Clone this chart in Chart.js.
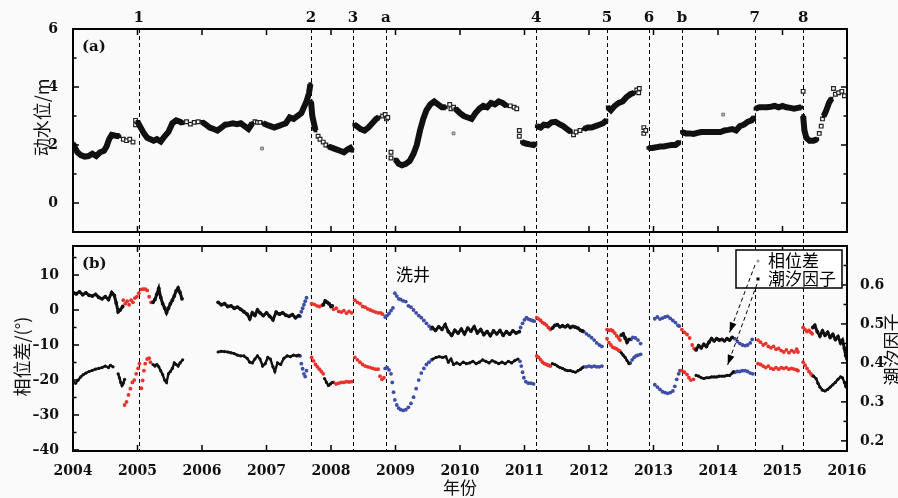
<!DOCTYPE html>
<html>
<head>
<meta charset="utf-8">
<script src="https://cdn.jsdelivr.net/npm/chart.js@4.4.0/dist/chart.umd.min.js"></script>
<style>
  html, body { margin: 0; padding: 0; background: #fafafa; }
  #wrap { position: relative; width: 898px; height: 498px; overflow: hidden; }
  #levelChart { position: absolute; left: 0; top: 0; }
  #tideChart { position: absolute; left: 0; top: 239px; }
</style>
</head>
<body>
<div id="wrap">
  <canvas id="levelChart" width="898" height="239"></canvas>
  <canvas id="tideChart" width="898" height="259"></canvas>
</div>
<script>
// --- Data (years as decimal) ---
const eventYears = [2005.02, 2007.69, 2008.34, 2008.85, 2011.18, 2012.28, 2012.93, 2013.44, 2014.57, 2015.32];
const eventLabels = ['1', '2', '3', 'a', '4', '5', '6', 'b', '7', '8'];

// (a) water level, continuous runs
const levelSegments = [
  [[2004.00,2.05],[2004.03,1.9],[2004.07,1.75],[2004.12,1.65],[2004.18,1.6],[2004.24,1.62],[2004.30,1.7],[2004.36,1.62],[2004.42,1.75],[2004.48,1.8],[2004.52,1.95],[2004.56,2.2],[2004.60,2.35],[2004.66,2.32],[2004.72,2.3]],
  [[2005.00,2.8],[2005.05,2.6],[2005.10,2.4],[2005.15,2.25],[2005.20,2.2],[2005.25,2.15],[2005.30,2.2],[2005.36,2.12],[2005.42,2.3],[2005.48,2.45],[2005.54,2.75],[2005.60,2.85],[2005.66,2.8],[2005.70,2.75]],
  [[2006.00,2.8],[2006.06,2.7],[2006.12,2.6],[2006.18,2.55],[2006.24,2.5],[2006.30,2.6],[2006.36,2.7],[2006.42,2.72],[2006.48,2.75],[2006.54,2.72],[2006.60,2.75],[2006.66,2.65],[2006.72,2.55],[2006.78,2.75]],
  [[2006.95,2.75],[2007.00,2.7],[2007.06,2.65],[2007.12,2.6],[2007.18,2.65],[2007.24,2.7],[2007.30,2.75],[2007.36,2.95],[2007.42,2.9],[2007.48,3.0],[2007.54,3.1],[2007.58,3.3],[2007.62,3.5],[2007.66,3.8],[2007.68,4.1]],
  [[2007.69,3.5],[2007.71,3.0],[2007.74,2.7],[2007.76,2.5]],
  [[2007.96,1.95],[2008.02,1.9],[2008.08,1.85],[2008.14,1.8],[2008.20,1.75],[2008.26,1.85],[2008.30,1.9],[2008.33,1.8]],
  [[2008.36,2.7],[2008.40,2.65],[2008.46,2.55],[2008.52,2.5],[2008.58,2.6],[2008.64,2.75],[2008.70,2.9],[2008.74,2.95]],
  [[2009.00,1.5],[2009.05,1.35],[2009.10,1.3],[2009.16,1.35],[2009.22,1.45],[2009.28,1.7],[2009.33,2.0],[2009.38,2.5],[2009.43,2.9],[2009.48,3.2],[2009.54,3.4],[2009.60,3.5],[2009.66,3.4],[2009.72,3.3],[2009.78,3.3]],
  [[2009.93,3.25],[2010.00,3.1],[2010.06,3.0],[2010.12,2.95],[2010.18,2.9],[2010.24,3.1],[2010.30,3.25],[2010.36,3.35],[2010.42,3.3],[2010.48,3.45],[2010.54,3.4],[2010.60,3.5],[2010.66,3.45],[2010.72,3.35]],
  [[2010.96,2.1],[2011.02,2.05],[2011.08,2.02],[2011.14,2.0],[2011.17,2.05]],
  [[2011.19,2.65],[2011.25,2.6],[2011.30,2.7],[2011.36,2.68],[2011.42,2.78],[2011.48,2.8],[2011.54,2.72],[2011.60,2.65],[2011.66,2.55],[2011.72,2.45]],
  [[2011.92,2.55],[2011.98,2.6],[2012.04,2.6],[2012.10,2.65],[2012.16,2.7],[2012.22,2.75],[2012.27,2.85]],
  [[2012.29,3.3],[2012.34,3.2],[2012.40,3.35],[2012.46,3.45],[2012.52,3.5],[2012.58,3.65],[2012.64,3.75],[2012.70,3.8]],
  [[2012.92,1.9],[2012.98,1.9],[2013.04,1.92],[2013.10,1.95],[2013.16,1.95],[2013.22,1.98],[2013.28,2.0],[2013.34,2.0],[2013.40,2.1]],
  [[2013.44,2.45],[2013.50,2.4],[2013.56,2.4],[2013.62,2.38],[2013.68,2.42],[2013.74,2.45],[2013.80,2.45],[2013.86,2.45],[2013.92,2.45],[2013.98,2.45],[2014.04,2.45],[2014.10,2.5],[2014.16,2.52],[2014.22,2.55],[2014.28,2.5],[2014.34,2.65],[2014.40,2.7],[2014.46,2.8],[2014.52,2.85],[2014.56,2.95]],
  [[2014.58,3.25],[2014.64,3.3],[2014.70,3.3],[2014.76,3.3],[2014.82,3.32],[2014.88,3.35],[2014.94,3.3],[2015.00,3.35],[2015.06,3.3],[2015.12,3.28],[2015.18,3.25],[2015.24,3.28],[2015.29,3.3]],
  [[2015.32,3.0],[2015.34,2.5],[2015.37,2.25],[2015.42,2.15],[2015.48,2.15],[2015.54,2.2]],
  [[2015.64,3.0],[2015.68,3.2],[2015.72,3.45],[2015.76,3.6]]
];
// (a) loose open squares
const levelSquares = [
  [2004.78,2.2],[2004.83,2.15],[2004.88,2.2],[2004.93,2.1],[2004.97,2.7],[2004.97,2.85],
  [2005.76,2.8],[2005.82,2.72],[2005.88,2.78],[2005.94,2.8],
  [2006.82,2.8],[2006.86,2.78],[2006.90,2.78],
  [2007.80,2.3],[2007.83,2.2],[2007.88,2.1],[2007.92,2.0],
  [2008.80,3.0],[2008.84,3.05],[2008.86,2.9],[2008.88,2.95],[2008.93,1.75],[2008.93,1.55],
  [2009.84,3.4],[2009.86,3.25],[2009.90,3.3],
  [2010.78,3.35],[2010.84,3.3],[2010.88,3.25],[2010.92,2.5],[2010.92,2.3],
  [2011.76,2.35],[2011.80,2.45],[2011.86,2.5],
  [2012.74,3.9],[2012.77,3.8],[2012.78,3.95],[2012.85,2.6],[2012.85,2.4],[2012.88,2.5],
  [2015.32,3.85],[2015.57,2.4],[2015.60,2.65],[2015.62,2.9],
  [2015.79,3.95],[2015.82,3.75],[2015.87,3.8],[2015.92,3.85],[2015.96,3.7]
];
const levelOutliers = [[2006.93,1.88],[2009.90,2.4],[2014.08,3.05]];

// (b) phase difference (deg, left axis)
const phaseBlack = [
  [[2004.00,5.0],[2004.05,4.6],[2004.10,5.2],[2004.15,4.4],[2004.20,4.9],[2004.25,4.2],[2004.30,4.0],[2004.35,4.5],[2004.40,3.6],[2004.45,3.2],[2004.50,3.8],[2004.55,3.0],[2004.60,5.0],[2004.64,4.2],[2004.67,2.0],[2004.70,-0.5],[2004.73,0.0],[2004.77,1.0]],
  [[2005.24,2.2],[2005.27,3.0],[2005.30,4.5],[2005.33,6.2],[2005.36,3.6],[2005.39,1.8],[2005.42,0.6],[2005.45,-0.8],[2005.48,0.5],[2005.51,1.8],[2005.54,2.8],[2005.57,4.0],[2005.60,5.5],[2005.63,6.3],[2005.66,5.0],[2005.69,3.2]],
  [[2006.25,2.2],[2006.30,1.5],[2006.35,1.8],[2006.40,1.0],[2006.45,1.2],[2006.50,0.5],[2006.55,0.8],[2006.60,0.2],[2006.65,-0.5],[2006.70,-1.2],[2006.74,-2.5],[2006.78,-0.8],[2006.82,-1.5],[2006.86,0.0],[2006.90,-0.8],[2006.95,-1.6],[2007.00,-0.8],[2007.05,-1.8],[2007.10,-2.8],[2007.15,-0.6],[2007.20,-1.2],[2007.25,-0.8],[2007.30,-1.5],[2007.35,-1.8],[2007.40,-1.3],[2007.45,-2.2],[2007.50,-1.6]],
  [[2007.88,1.5],[2007.91,2.6],[2007.94,2.2],[2007.97,1.8],[2008.00,1.0],[2008.02,1.2]],
  [[2009.57,-5.0],[2009.62,-5.8],[2009.67,-4.8],[2009.72,-5.5],[2009.77,-4.2],[2009.82,-6.2],[2009.87,-7.2],[2009.92,-5.8],[2009.97,-6.6],[2010.02,-5.5],[2010.07,-6.8],[2010.12,-5.2],[2010.17,-6.0],[2010.22,-4.8],[2010.27,-6.5],[2010.32,-5.6],[2010.37,-7.0],[2010.42,-6.2],[2010.47,-7.3],[2010.52,-6.0],[2010.57,-6.8],[2010.62,-5.9],[2010.67,-7.2],[2010.72,-6.2],[2010.77,-6.9],[2010.82,-6.0],[2010.87,-6.6],[2010.92,-6.2]],
  [[2011.43,-5.2],[2011.47,-4.4],[2011.51,-4.2],[2011.55,-4.8],[2011.59,-4.5],[2011.63,-4.8],[2011.67,-4.4],[2011.71,-5.0],[2011.75,-4.7],[2011.79,-4.9],[2011.83,-5.2],[2011.87,-5.8],[2011.90,-6.0]],
  [[2012.50,-7.2],[2012.53,-6.8],[2012.56,-8.0],[2012.59,-9.2],[2012.62,-8.4]],
  [[2013.66,-11.4],[2013.70,-10.2],[2013.74,-10.8],[2013.78,-9.8],[2013.82,-10.4],[2013.86,-9.2],[2013.90,-8.2],[2013.94,-8.8],[2013.98,-8.2],[2014.02,-8.6],[2014.06,-8.4],[2014.10,-8.8],[2014.14,-8.2],[2014.18,-8.6],[2014.22,-7.8]],
  [[2015.47,-5.0],[2015.50,-4.4],[2015.54,-6.2],[2015.58,-7.4],[2015.62,-6.0],[2015.66,-7.2],[2015.70,-6.4],[2015.74,-7.8],[2015.78,-7.0],[2015.82,-8.4],[2015.86,-7.6],[2015.90,-9.4],[2015.93,-8.6],[2015.96,-11.0],[2015.98,-13.0],[2016.00,-14.0]]
];
const phaseRed = [
  [2004.78,2.8],[2004.81,1.8],[2004.84,2.5],[2004.87,1.5],[2004.90,2.8],[2004.93,2.2],[2004.96,3.4],[2004.99,3.8],[2005.02,4.8],
  [2005.06,5.9],[2005.09,6.0],[2005.12,6.0],[2005.15,5.6],[2005.18,3.8],[2005.21,2.2],
  [2007.70,1.8],[2007.74,1.6],[2007.78,1.2],[2007.82,1.0],[2007.86,1.3],
  [2008.04,0.2],[2008.08,0.5],[2008.12,-0.4],[2008.16,-0.6],[2008.20,-0.2],[2008.24,-0.9],[2008.28,-0.4],[2008.32,-0.8],
  [2008.37,2.8],[2008.41,2.2],[2008.45,1.8],[2008.49,1.0],[2008.53,0.8],[2008.57,0.3],[2008.61,0.0],[2008.65,-0.3],[2008.69,-0.6],[2008.73,-0.8],[2008.77,-0.8],[2008.80,-1.2],
  [2011.19,-2.2],[2011.22,-2.6],[2011.25,-3.0],[2011.28,-3.6],[2011.31,-3.9],[2011.34,-4.3],[2011.37,-5.0],[2011.40,-5.6],
  [2012.28,-5.6],[2012.31,-5.8],[2012.34,-5.7],[2012.37,-6.0],[2012.40,-6.6],[2012.43,-7.4],[2012.46,-8.0],[2012.48,-8.6],
  [2013.44,-5.6],[2013.48,-6.4],[2013.52,-7.0],[2013.56,-8.0],[2013.60,-10.0],[2013.63,-11.0],
  [2014.62,-8.6],[2014.66,-9.2],[2014.70,-10.0],[2014.74,-9.6],[2014.78,-10.4],[2014.82,-10.8],[2014.86,-10.4],[2014.90,-11.2],[2014.94,-11.0],[2014.98,-11.6],[2015.02,-12.0],[2015.06,-11.4],[2015.10,-12.2],[2015.14,-11.6],[2015.18,-12.0],[2015.22,-11.2],[2015.24,-12.0],
  [2015.32,-5.0],[2015.35,-5.6],[2015.38,-6.2],[2015.41,-5.8],[2015.44,-6.4],[2015.46,-6.8]
];
const phaseBlue = [
  [2007.52,-1.8],[2007.54,-0.5],[2007.56,0.5],[2007.58,1.5],[2007.60,2.5],[2007.62,3.5],
  [2008.84,-2.0],[2008.87,-1.6],[2008.90,-1.0],[2008.93,-0.2],[2008.96,0.6],[2008.99,4.8],[2009.02,4.0],[2009.05,3.2],[2009.08,3.0],[2009.12,2.6],[2009.16,2.4],[2009.20,1.2],[2009.24,0.8],[2009.28,0.0],[2009.32,-0.8],[2009.36,-1.6],[2009.40,-2.2],[2009.44,-3.0],[2009.48,-3.8],[2009.52,-4.6],[2009.55,-5.4],
  [2010.94,-5.0],[2010.97,-3.8],[2011.00,-2.8],[2011.03,-2.2],[2011.06,-2.6],[2011.09,-2.8],[2011.12,-3.0],[2011.15,-3.2],
  [2011.92,-6.2],[2011.96,-6.8],[2012.00,-7.3],[2012.04,-7.9],[2012.08,-8.6],[2012.12,-9.4],[2012.16,-10.0],[2012.20,-10.4],
  [2012.65,-8.4],[2012.68,-7.8],[2012.72,-8.0],[2012.76,-8.6],[2012.80,-9.6],
  [2013.02,-2.5],[2013.06,-2.0],[2013.10,-2.6],[2013.14,-2.3],[2013.18,-2.0],[2013.22,-1.8],[2013.26,-2.4],[2013.30,-3.0],[2013.34,-3.6],[2013.38,-4.4],[2013.40,-4.6],
  [2014.26,-8.2],[2014.30,-9.0],[2014.34,-9.6],[2014.38,-10.0],[2014.42,-10.2],[2014.46,-10.0],[2014.50,-9.4],[2014.53,-8.4]
];

// (b) tidal factor (right axis)
const tideBlack = [
  [[2004.00,0.352],[2004.04,0.348],[2004.08,0.356],[2004.12,0.364],[2004.16,0.370],[2004.20,0.374],[2004.25,0.378],[2004.30,0.381],[2004.35,0.384],[2004.40,0.386],[2004.45,0.388],[2004.50,0.392],[2004.55,0.388],[2004.58,0.394],[2004.62,0.390]],
  [[2004.70,0.372],[2004.72,0.362],[2004.74,0.350],[2004.76,0.342],[2004.78,0.348],[2004.80,0.358]],
  [[2005.24,0.396],[2005.27,0.392],[2005.30,0.396],[2005.33,0.390],[2005.36,0.380],[2005.39,0.370],[2005.42,0.356],[2005.45,0.350],[2005.48,0.372],[2005.51,0.378],[2005.54,0.386],[2005.57,0.400],[2005.60,0.396],[2005.63,0.392],[2005.66,0.400],[2005.70,0.408]],
  [[2006.25,0.428],[2006.30,0.430],[2006.35,0.429],[2006.40,0.428],[2006.45,0.426],[2006.50,0.424],[2006.55,0.420],[2006.60,0.418],[2006.65,0.418],[2006.70,0.412],[2006.74,0.402],[2006.78,0.400],[2006.82,0.410],[2006.86,0.418],[2006.90,0.410],[2006.94,0.392],[2006.98,0.398],[2007.02,0.414],[2007.06,0.410],[2007.10,0.390],[2007.13,0.378],[2007.17,0.400],[2007.22,0.396],[2007.27,0.412],[2007.32,0.418],[2007.37,0.416],[2007.42,0.420],[2007.47,0.418],[2007.50,0.420]],
  [[2007.90,0.360],[2007.93,0.350],[2007.96,0.342],[2007.99,0.346],[2008.02,0.350]],
  [[2009.58,0.410],[2009.63,0.414],[2009.68,0.416],[2009.73,0.414],[2009.78,0.416],[2009.82,0.402],[2009.86,0.410],[2009.90,0.396],[2009.95,0.400],[2010.00,0.396],[2010.05,0.402],[2010.10,0.398],[2010.15,0.400],[2010.20,0.404],[2010.25,0.398],[2010.30,0.402],[2010.35,0.408],[2010.40,0.404],[2010.45,0.400],[2010.50,0.406],[2010.55,0.402],[2010.60,0.398],[2010.65,0.402],[2010.70,0.398],[2010.75,0.404],[2010.80,0.400],[2010.85,0.406],[2010.90,0.410]],
  [[2011.43,0.398],[2011.47,0.396],[2011.51,0.392],[2011.55,0.388],[2011.59,0.386],[2011.63,0.382],[2011.67,0.380],[2011.71,0.380],[2011.75,0.378],[2011.79,0.376],[2011.83,0.380],[2011.87,0.384],[2011.90,0.388]],
  [[2012.50,0.426],[2012.53,0.420],[2012.56,0.414],[2012.59,0.406],[2012.62,0.398]],
  [[2013.66,0.368],[2013.70,0.366],[2013.74,0.362],[2013.78,0.360],[2013.82,0.362],[2013.86,0.362],[2013.90,0.364],[2013.94,0.364],[2013.98,0.364],[2014.02,0.366],[2014.06,0.366],[2014.10,0.366],[2014.14,0.368],[2014.18,0.368],[2014.22,0.374],[2014.24,0.378]],
  [[2015.48,0.366],[2015.52,0.360],[2015.55,0.348],[2015.58,0.338],[2015.62,0.330],[2015.66,0.328],[2015.70,0.332],[2015.74,0.338],[2015.78,0.344],[2015.82,0.350],[2015.86,0.358],[2015.90,0.364],[2015.93,0.362],[2015.96,0.350],[2015.98,0.340],[2016.00,0.336]]
];
const tideRed = [
  [2004.80,0.292],[2004.83,0.300],[2004.86,0.318],[2004.89,0.334],[2004.92,0.350],[2004.95,0.356],[2004.98,0.372],[2005.01,0.386],[2005.03,0.398],
  [2005.06,0.335],[2005.08,0.355],[2005.10,0.380],[2005.12,0.398],[2005.15,0.410],[2005.18,0.412],[2005.20,0.402],
  [2007.70,0.414],[2007.73,0.405],[2007.76,0.396],[2007.79,0.390],[2007.82,0.384],[2007.85,0.378],[2007.88,0.372],
  [2008.04,0.350],[2008.08,0.346],[2008.12,0.348],[2008.16,0.350],[2008.20,0.350],[2008.24,0.352],[2008.28,0.351],[2008.32,0.352],
  [2008.37,0.414],[2008.41,0.408],[2008.45,0.402],[2008.49,0.396],[2008.53,0.392],[2008.57,0.390],[2008.61,0.388],[2008.65,0.386],[2008.69,0.384],[2008.73,0.384],[2008.76,0.366],[2008.79,0.358],[2008.82,0.362],
  [2011.19,0.418],[2011.22,0.414],[2011.25,0.408],[2011.28,0.402],[2011.31,0.398],[2011.34,0.396],[2011.37,0.394],[2011.40,0.392],
  [2012.28,0.462],[2012.31,0.452],[2012.34,0.446],[2012.37,0.440],[2012.40,0.438],[2012.43,0.436],[2012.46,0.432],[2012.48,0.430],
  [2013.44,0.380],[2013.48,0.376],[2013.52,0.370],[2013.55,0.362],[2013.58,0.356],[2013.62,0.358],
  [2014.62,0.398],[2014.66,0.396],[2014.70,0.392],[2014.74,0.388],[2014.78,0.392],[2014.82,0.386],[2014.86,0.384],[2014.90,0.388],[2014.94,0.384],[2014.98,0.388],[2015.02,0.386],[2015.06,0.388],[2015.10,0.384],[2015.14,0.386],[2015.18,0.384],[2015.22,0.382],[2015.24,0.380],
  [2015.32,0.402],[2015.35,0.394],[2015.38,0.386],[2015.41,0.378],[2015.44,0.372],[2015.46,0.368]
];
const tideBlue = [
  [2007.52,0.418],[2007.54,0.398],[2007.56,0.385],[2007.58,0.372],[2007.60,0.365],[2007.62,0.380],
  [2008.84,0.386],[2008.87,0.388],[2008.90,0.382],[2008.93,0.372],[2008.95,0.350],[2008.97,0.325],[2008.99,0.305],[2009.02,0.292],[2009.05,0.284],[2009.08,0.280],[2009.12,0.278],[2009.16,0.280],[2009.20,0.286],[2009.24,0.296],[2009.28,0.312],[2009.32,0.334],[2009.36,0.356],[2009.40,0.374],[2009.44,0.386],[2009.48,0.396],[2009.52,0.402],[2009.56,0.408],
  [2010.93,0.404],[2010.95,0.392],[2010.97,0.376],[2010.99,0.362],[2011.02,0.352],[2011.06,0.348],[2011.10,0.348],[2011.14,0.346],
  [2011.92,0.390],[2011.96,0.390],[2012.00,0.392],[2012.04,0.390],[2012.08,0.392],[2012.12,0.390],[2012.16,0.390],[2012.20,0.392],
  [2012.64,0.400],[2012.67,0.408],[2012.70,0.414],[2012.73,0.418],[2012.76,0.420],[2012.80,0.422],
  [2013.02,0.344],[2013.06,0.338],[2013.10,0.332],[2013.14,0.326],[2013.18,0.324],[2013.22,0.322],[2013.26,0.324],[2013.30,0.328],[2013.33,0.340],[2013.36,0.358],[2013.39,0.372],[2013.41,0.380],
  [2014.26,0.376],[2014.30,0.378],[2014.34,0.378],[2014.38,0.380],[2014.42,0.380],[2014.46,0.378],[2014.50,0.374],[2014.54,0.372]
];

// --- Styles ---
const RED = '#e8322b';
const BLUE = '#3e4ea6';
const INK = '#111';
const NUM_FONT = { family: '"DejaVu Serif", serif', size: 14, weight: 'bold' };
const CJK = '"Noto Sans CJK SC", sans-serif';

const toXY = pts => pts.map(p => ({ x: p[0], y: p[1] }));
const minus = v => (v < 0 ? '\u2013' + Math.abs(v) : String(v));
// keep the plot area where we put it: no extra room for edge labels
const noPad = s => { s.paddingTop = 0; s.paddingBottom = 0; s.paddingLeft = 0; s.paddingRight = 0; };

// --- Plugins ---
// frame + inward ticks on chosen sides
const framePlugin = {
  id: 'frame',
  afterDraw(chart, args, opts) {
    const { ctx, chartArea: a } = chart;
    ctx.save();
    ctx.strokeStyle = '#000';
    ctx.lineWidth = 1.5;
    (opts.ticks || []).forEach(t => {
      const sc = chart.scales[t.id];
      const n0 = Math.ceil(sc.min / t.step - 1e-6);
      const n1 = Math.floor(sc.max / t.step + 1e-6);
      for (let i = n0; i <= n1; i++) {
        const v = i * t.step;
        const r = v / t.major;
        const len = Math.abs(r - Math.round(r)) < 1e-6 ? 6 : 3.5;
        const p = sc.getPixelForValue(v);
        ctx.beginPath();
        t.sides.forEach(side => {
          if (side === 'bottom') { ctx.moveTo(p, a.bottom); ctx.lineTo(p, a.bottom - len); }
          if (side === 'top') { ctx.moveTo(p, a.top); ctx.lineTo(p, a.top + len); }
          if (side === 'left') { ctx.moveTo(a.left, p); ctx.lineTo(a.left + len, p); }
          if (side === 'right') { ctx.moveTo(a.right, p); ctx.lineTo(a.right - len, p); }
        });
        ctx.stroke();
      }
    });
    ctx.lineWidth = 2;
    ctx.strokeRect(a.left, a.top, a.right - a.left, a.bottom - a.top);
    ctx.restore();
  }
};

// dashed event lines + labels
const eventPlugin = {
  id: 'events',
  beforeDatasetsDraw(chart, args, opts) {
    const { ctx, chartArea: a } = chart;
    const xs = chart.scales.x;
    ctx.save();
    ctx.strokeStyle = '#000';
    ctx.lineWidth = 1;
    ctx.setLineDash([4, 3]);
    eventYears.forEach(yr => {
      const px = Math.round(xs.getPixelForValue(yr)) + 0.5;
      ctx.beginPath();
      ctx.moveTo(px, opts.top ? a.top : 0);
      ctx.lineTo(px, opts.top ? chart.height : a.bottom);
      ctx.stroke();
    });
    ctx.restore();
  },
  afterDraw(chart, args, opts) {
    const { ctx, chartArea: a } = chart;
    const xs = chart.scales.x;
    ctx.save();
    ctx.fillStyle = INK;
    ctx.textAlign = 'center';
    ctx.textBaseline = 'middle';
    if (opts.top) {
      ctx.font = 'bold 15px "DejaVu Serif"';
      eventYears.forEach((yr, i) => ctx.fillText(eventLabels[i], xs.getPixelForValue(yr), a.top - 11));
    }
    ctx.textAlign = 'left';
    ctx.font = 'bold 15px "DejaVu Serif"';
    ctx.fillText(opts.panel, a.left + 9, a.top + 18);
    ctx.restore();
  }
};

function rotatedText(ctx, text, x, y, font) {
  ctx.save();
  ctx.translate(x, y);
  ctx.rotate(-Math.PI / 2);
  ctx.font = font;
  ctx.fillStyle = INK;
  ctx.textAlign = 'center';
  ctx.textBaseline = 'middle';
  ctx.fillText(text, 0, 0);
  ctx.restore();
}

const titlePlugin = {
  id: 'ytitles',
  afterDraw(chart, args, opts) {
    const { ctx, chartArea: a } = chart;
    const mid = (a.top + a.bottom) / 2;
    (opts.items || []).forEach(it => {
      const x = it.side === 'left' ? a.left + it.dx : a.right + it.dx;
      rotatedText(ctx, it.text, x, mid + it.dy, '18px ' + CJK);
    });
  }
};

// legend box with arrows and the 洗井 note
const notePlugin = {
  id: 'notes',
  afterDraw(chart) {
    const { ctx, chartArea: a, scales } = chart;
    const bx = a.right - 111, by = a.top + 4, bw = 106, bh = 38;
    ctx.save();
    ctx.fillStyle = '#fff';
    ctx.fillRect(bx, by, bw, bh);
    ctx.strokeStyle = '#000';
    ctx.lineWidth = 1.5;
    ctx.strokeRect(bx, by, bw, bh);
    ctx.fillStyle = '#999';
    ctx.beginPath(); ctx.arc(bx + 22, by + 11, 1.6, 0, Math.PI * 2); ctx.fill();
    ctx.fillStyle = '#000';
    ctx.fillRect(bx + 20.5, by + 27.5, 3, 3);
    ctx.font = '17px ' + CJK;
    ctx.textAlign = 'left';
    ctx.textBaseline = 'middle';
    ctx.fillText('相位差', bx + 32, by + 11);
    ctx.fillText('潮汐因子', bx + 32, by + 29);

    const arrow = (x0, y0, x1, y1) => {
      ctx.setLineDash([4, 3]);
      ctx.lineWidth = 1;
      ctx.beginPath(); ctx.moveTo(x0, y0); ctx.lineTo(x1, y1); ctx.stroke();
      ctx.setLineDash([]);
      const ang = Math.atan2(y1 - y0, x1 - x0);
      ctx.beginPath();
      ctx.moveTo(x1, y1);
      ctx.lineTo(x1 - 10 * Math.cos(ang) + 3.5 * Math.sin(ang), y1 - 10 * Math.sin(ang) - 3.5 * Math.cos(ang));
      ctx.lineTo(x1 - 10 * Math.cos(ang) - 3.5 * Math.sin(ang), y1 - 10 * Math.sin(ang) + 3.5 * Math.cos(ang));
      ctx.closePath();
      ctx.fill();
    };
    arrow(bx + 19, by + 15, scales.x.getPixelForValue(2014.18), scales.y.getPixelForValue(-6.4));
    arrow(bx + 21, by + 34, scales.x.getPixelForValue(2014.15), scales.y2.getPixelForValue(0.395));

    ctx.font = '17px ' + CJK;
    ctx.textAlign = 'center';
    ctx.fillText('洗井', scales.x.getPixelForValue(2009.27), scales.y.getPixelForValue(10));
    ctx.restore();
  }
};

// --- Dataset builders ---
function lineSets(segs, axis, width, radius, style) {
  return segs.map(s => ({
    data: toXY(s), yAxisID: axis, showLine: true, borderColor: INK, backgroundColor: INK,
    borderWidth: width, pointRadius: radius, pointBorderWidth: 0, pointStyle: style || 'circle'
  }));
}
function dotSet(pts, axis, color) {
  return { data: toXY(pts), yAxisID: axis, showLine: false, backgroundColor: color, borderColor: color, pointRadius: 1.9, pointBorderWidth: 0 };
}

const common = {
  responsive: false,
  animation: false,
  events: [],
  plugins: { legend: { display: false }, tooltip: { enabled: false } }
};
const tickFont = { font: NUM_FONT, color: INK };

// --- (a) water level ---
new Chart(document.getElementById('levelChart'), {
  type: 'scatter',
  data: {
    datasets: [
      ...lineSets(levelSegments, 'y', 6, 2.6, 'rect'),
      { data: toXY(levelSquares), yAxisID: 'y', showLine: false, pointStyle: 'rect', pointRadius: 2.6, backgroundColor: '#fff', borderColor: '#222', pointBorderWidth: 1.2 },
      { data: toXY(levelOutliers), yAxisID: 'y', showLine: false, pointStyle: 'rect', pointRadius: 2, backgroundColor: '#bbb', borderColor: '#777', pointBorderWidth: 1 }
    ]
  },
  options: {
    ...common,
    layout: { padding: { top: 29, right: 51, bottom: 7, left: 0 } },
    scales: {
      x: { type: 'linear', display: false, min: 2004, max: 2016 },
      y: {
        min: -1, max: 6,
        grid: { display: false }, border: { display: false },
        afterFit: s => { s.width = 73; noPad(s); },
        ticks: { ...tickFont, stepSize: 1, padding: 7, autoSkip: false,
          callback: v => (v >= 0 && v % 2 === 0) ? v : '' }
      }
    },
    plugins: {
      ...common.plugins,
      frame: { ticks: [
        { id: 'x', step: 1, major: 1, sides: ['bottom', 'top'] },
        { id: 'y', step: 1, major: 2, sides: ['left', 'right'] }
      ] },
      events: { top: true, panel: '(a)' },
      ytitles: { items: [{ side: 'left', text: '动水位/m', dx: -31, dy: -13 }] }
    }
  },
  plugins: [eventPlugin, framePlugin, titlePlugin]
});

// --- (b) phase difference & tidal factor ---
new Chart(document.getElementById('tideChart'), {
  type: 'scatter',
  data: {
    datasets: [
      ...lineSets(phaseBlack, 'y', 3, 1.9),
      dotSet(phaseRed, 'y', RED),
      dotSet(phaseBlue, 'y', BLUE),
      ...lineSets(tideBlack, 'y2', 2.4, 1.6),
      dotSet(tideRed, 'y2', RED),
      dotSet(tideBlue, 'y2', BLUE)
    ]
  },
  options: {
    ...common,
    layout: { padding: { top: 7, right: 0, bottom: 0, left: 0 } },
    scales: {
      x: {
        type: 'linear', min: 2004, max: 2016,
        grid: { display: false }, border: { display: false },
        afterFit: s => { s.height = 47; noPad(s); },
        ticks: { ...tickFont, stepSize: 1, padding: 4, autoSkip: false, maxRotation: 0, callback: v => String(v) },
        title: { display: true, text: '年份', font: { family: CJK, size: 17 }, color: INK, padding: 0 }
      },
      y: {
        min: -40.3, max: 18.3,
        grid: { display: false }, border: { display: false },
        afterFit: s => { s.width = 73; noPad(s); },
        ticks: { ...tickFont, stepSize: 5, padding: 6, autoSkip: false, includeBounds: false,
          callback: v => Math.abs(v % 10) < 1e-6 ? minus(v) : '' }
      },
      y2: {
        position: 'right', min: 0.174, max: 0.7,
        grid: { display: false }, border: { display: false },
        afterFit: s => { s.width = 51; noPad(s); },
        ticks: { ...tickFont, stepSize: 0.05, padding: 5, autoSkip: false, includeBounds: false,
          callback: v => Math.abs(v * 10 - Math.round(v * 10)) < 1e-6 ? v.toFixed(1) : '' }
      }
    },
    plugins: {
      ...common.plugins,
      frame: { ticks: [
        { id: 'x', step: 1, major: 1, sides: ['bottom', 'top'] },
        { id: 'y', step: 5, major: 10, sides: ['left'] },
        { id: 'y2', step: 0.05, major: 0.1, sides: ['right'] }
      ] },
      events: { top: false, panel: '(b)' },
      ytitles: { items: [
        { side: 'left', text: '相位差/(°)', dx: -51, dy: 8 },
        { side: 'right', text: '潮汐因子', dx: 45, dy: 1 }
      ] }
    }
  },
  plugins: [eventPlugin, framePlugin, titlePlugin, notePlugin]
});
</script>
</body>
</html>
